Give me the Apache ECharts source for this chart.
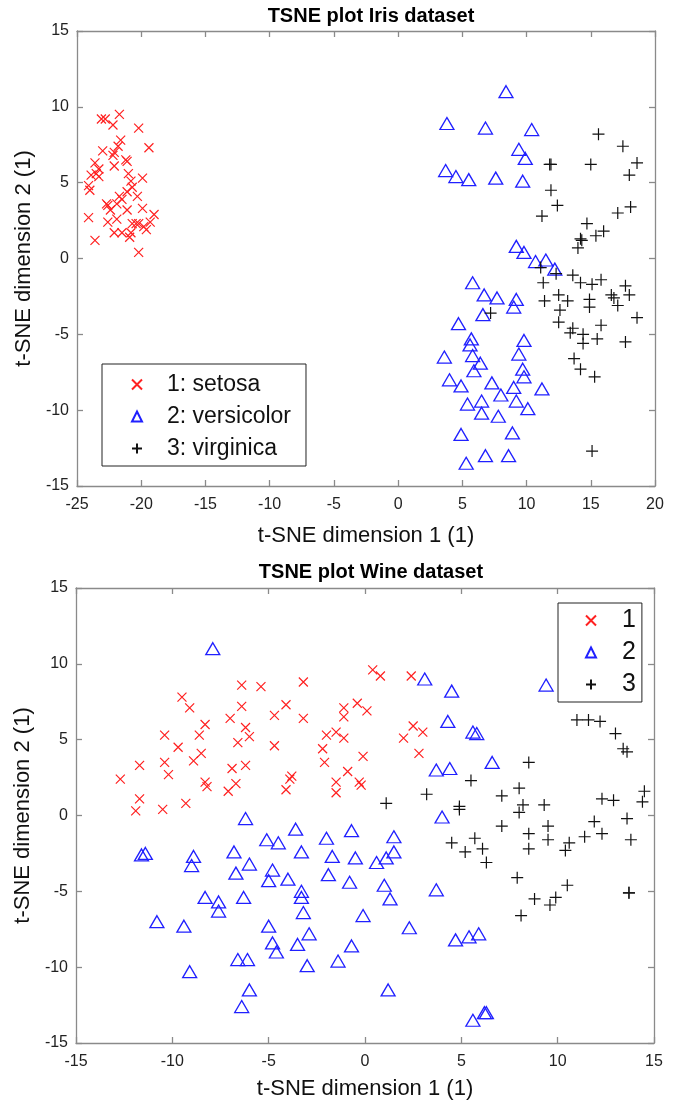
<!DOCTYPE html>
<html>
<head>
<meta charset="utf-8">
<script src="https://cdn.jsdelivr.net/npm/echarts@6/dist/echarts.min.js"></script>
<style>
html,body{margin:0;padding:0;background:#fff;}
#chart{width:682px;height:1109px;}
</style>
</head>
<body>
<div id="chart"></div>
<script>
// Iris t-SNE points [x, y]
var irisSetosa = [[-21.7,9.5],[-23.1,9.2],[-22.8,9.2],[-22.2,8.8],[-20.2,8.6],[-21.6,7.8],[-21.8,7.4],[-23.0,7.1],[-22.1,7.0],[-22.2,6.8],[-19.4,7.3],[-21.2,6.5],[-21.1,6.4],[-23.6,6.3],[-22.1,6.1],[-23.3,5.9],[-23.9,5.5],[-23.5,5.6],[-23.3,5.4],[-21.0,5.6],[-20.8,5.1],[-19.9,5.3],[-24.1,4.8],[-24.0,4.5],[-20.7,4.7],[-21.1,4.4],[-21.7,4.1],[-20.3,4.1],[-21.5,3.9],[-22.7,3.6],[-22.6,3.5],[-21.9,3.6],[-22.4,3.2],[-21.1,3.2],[-19.9,3.3],[-24.1,2.7],[-19.0,2.9],[-21.9,2.6],[-22.6,2.4],[-20.7,2.3],[-20.4,2.3],[-20.2,2.3],[-19.8,2.1],[-19.3,2.4],[-19.6,1.9],[-22.1,1.7],[-21.5,1.7],[-20.8,1.7],[-20.9,1.4],[-23.6,1.2],[-20.2,0.4]];
var irisVersicolor = [[8.4,11.0],[3.8,8.9],[6.8,8.6],[10.4,8.5],[9.4,7.2],[9.9,6.6],[3.7,5.8],[4.5,5.4],[5.5,5.2],[7.6,5.3],[9.7,5.1],[9.2,0.8],[9.8,0.4],[10.7,-0.2],[11.5,-0.1],[12.2,-0.7],[5.8,-1.6],[6.7,-2.4],[7.7,-2.6],[9.2,-2.7],[9.0,-3.2],[6.6,-3.7],[4.7,-4.3],[5.7,-5.3],[5.6,-5.7],[9.8,-5.4],[3.6,-6.5],[5.8,-6.4],[6.4,-6.9],[5.9,-7.4],[9.4,-6.3],[9.7,-7.3],[9.8,-7.8],[4.0,-8.0],[4.9,-8.4],[7.3,-8.2],[9.0,-8.5],[8.0,-9.0],[11.2,-8.6],[5.4,-9.6],[6.5,-9.4],[9.2,-9.4],[10.1,-9.9],[6.5,-10.2],[7.8,-10.4],[4.9,-11.6],[8.9,-11.5],[6.8,-13.0],[8.6,-13.0],[5.3,-13.5]];
var irisVirginica = [[15.6,8.2],[17.5,7.4],[11.8,6.2],[11.9,6.2],[15.0,6.2],[18.6,6.3],[18.0,5.5],[11.9,4.5],[12.4,3.5],[11.2,2.8],[17.1,3.0],[18.1,3.4],[14.7,2.3],[14.2,1.3],[14.3,1.2],[15.4,1.5],[16.0,1.8],[14.0,0.7],[11.1,-0.6],[12.3,-1.0],[13.6,-1.1],[14.2,-1.6],[15.1,-1.7],[15.8,-1.4],[17.7,-1.8],[11.3,-1.6],[12.5,-2.4],[16.6,-2.4],[16.8,-2.6],[18.0,-2.4],[11.4,-2.8],[13.2,-2.8],[14.9,-2.7],[14.9,-3.2],[12.6,-3.4],[17.1,-3.1],[7.2,-3.6],[18.6,-3.9],[12.5,-4.2],[13.6,-4.6],[13.4,-4.9],[14.4,-5.0],[15.8,-4.4],[14.4,-5.6],[15.5,-5.3],[17.7,-5.5],[13.7,-6.6],[14.2,-7.3],[15.3,-7.8],[15.1,-12.7]];

// Wine t-SNE points [x, y]
var wine1 = [[-12.7,2.4],[-11.7,3.3],[-11.7,1.1],[-11.9,0.3],[-10.5,0.4],[-10.4,5.3],[-10.4,3.5],[-10.2,2.7],[-9.7,4.5],[-9.5,7.8],[-9.1,7.1],[-9.3,0.8],[-8.9,3.6],[-8.6,5.3],[-8.5,4.1],[-8.3,6.0],[-8.3,2.2],[-8.2,1.9],[-7.1,1.6],[-7.0,6.4],[-6.9,3.1],[-6.7,2.1],[-6.6,4.8],[-6.4,8.6],[-6.4,7.2],[-6.2,5.8],[-6.0,5.2],[-6.2,3.3],[-5.4,8.5],[-4.7,4.6],[-4.7,6.6],[-4.1,7.3],[-4.1,1.7],[-3.9,2.4],[-3.8,2.6],[-3.2,8.8],[-3.2,6.4],[-2.2,4.4],[-2.1,3.5],[-2.0,5.3],[-1.5,5.5],[-1.5,2.2],[-1.5,1.5],[-1.1,7.1],[-1.1,6.5],[-1.1,5.1],[-0.9,2.9],[-0.4,7.4],[-0.3,2.2],[-0.2,2.0],[-0.1,3.9],[0.4,9.6],[0.8,9.2],[2.4,9.2],[0.1,6.9],[2.5,5.9],[3.0,5.5],[2.0,5.1],[2.8,4.1]];
var wine2 = [[-7.9,11.0],[3.1,9.0],[4.5,8.2],[9.4,8.6],[4.3,6.2],[5.6,5.5],[5.8,5.4],[6.6,3.5],[3.7,3.0],[4.4,3.1],[-6.2,-0.2],[-3.6,-0.9],[-5.1,-1.6],[-4.5,-1.8],[-2.0,-1.5],[-0.7,-1.0],[-11.6,-2.6],[-11.4,-2.5],[-8.9,-2.7],[-9.0,-3.3],[-6.8,-2.4],[-6.0,-3.2],[-6.7,-3.8],[-3.3,-2.4],[-4.8,-3.6],[-5.0,-4.3],[-4.0,-4.2],[-1.7,-2.7],[-1.9,-3.9],[-0.5,-2.8],[-0.8,-4.4],[-3.3,-5.0],[-3.3,-5.4],[-3.2,-6.4],[-8.3,-5.4],[-7.6,-5.7],[-7.6,-6.3],[-6.3,-5.4],[-10.8,-7.0],[-9.4,-7.3],[-5.0,-7.3],[-2.9,-7.8],[-4.8,-8.4],[-4.6,-9.0],[-3.5,-8.5],[-1.4,-9.6],[-0.7,-8.6],[-6.6,-9.5],[-6.1,-9.5],[-3.0,-9.9],[-9.1,-10.3],[-6.0,-11.5],[-6.4,-12.6],[4.0,-0.1],[1.5,-1.4],[0.6,-3.1],[1.1,-2.8],[1.5,-2.4],[1.0,-4.6],[1.3,-5.5],[3.7,-4.9],[-0.1,-6.6],[2.3,-7.4],[4.7,-8.2],[5.4,-8.0],[5.9,-7.8],[1.2,-11.5],[5.6,-13.5],[6.2,-13.0],[6.3,-13.0]];
var wine3 = [[11.0,6.3],[11.6,6.3],[12.2,6.2],[13.0,5.4],[13.4,4.4],[13.6,4.2],[8.5,3.5],[5.5,2.3],[8.0,1.8],[3.2,1.4],[7.1,1.3],[14.5,1.6],[1.1,0.8],[4.9,0.6],[4.9,0.4],[8.2,0.7],[8.0,0.2],[9.3,0.7],[12.3,1.1],[12.9,1.0],[14.4,0.9],[7.1,-0.7],[8.5,-1.2],[9.5,-0.7],[9.5,-1.6],[11.9,-0.4],[12.3,-1.2],[11.4,-1.4],[10.6,-1.8],[10.4,-2.3],[13.6,-0.2],[13.8,-1.6],[4.5,-1.8],[5.7,-1.5],[6.1,-2.2],[5.2,-2.4],[6.3,-3.1],[8.5,-2.2],[7.9,-4.1],[10.5,-4.6],[8.8,-5.5],[9.6,-5.9],[9.9,-5.4],[8.1,-6.6],[13.7,-5.1],[13.7,-5.1]];

var irisNames = ['1: setosa', '2: versicolor', '3: virginica'];
var wineNames = ['1', '2', '3'];
var titles = ['TSNE plot Iris dataset', 'TSNE plot Wine dataset'];
var xName = 't-SNE dimension 1 (1)';
var yName = 't-SNE dimension 2 (1)';

var FONT = 'Liberation Sans, Arial, sans-serif';
var AXC = '#8a8a8a';
var CROSS = 'path://M0,0L10,10M10,0L0,10';
var PLUS = 'path://M5,0L5,10M0,5L10,5';

function mainAxis(gi, pos, min, max, name, gap) {
    return {
        type: 'value', gridIndex: gi, position: pos, min: min, max: max, interval: 5,
        name: name, nameLocation: 'middle', nameGap: gap,
        nameTextStyle: {fontFamily: FONT, fontSize: 22, color: '#111'},
        axisLine: {show: true, onZero: false, lineStyle: {color: AXC, width: 1.3}},
        axisTick: {show: true, inside: true, length: 6, lineStyle: {color: AXC, width: 1.3}},
        axisLabel: {fontFamily: FONT, fontSize: 16, color: '#222', margin: pos == 'bottom' ? 11 : 8},
        splitLine: {show: false}
    };
}
function boxAxis(gi, pos, min, max) {
    return {
        type: 'value', gridIndex: gi, position: pos, min: min, max: max, interval: 5,
        axisLine: {show: true, onZero: false, lineStyle: {color: AXC, width: 1.3}},
        axisTick: {show: true, inside: true, length: 6, lineStyle: {color: AXC, width: 1.3}},
        axisLabel: {show: false},
        splitLine: {show: false}
    };
}
function crossSeries(name, xi, yi, data) {
    return {name: name, type: 'scatter', xAxisIndex: xi, yAxisIndex: yi, data: data,
        symbol: CROSS, symbolSize: 9,
        itemStyle: {color: 'rgba(0,0,0,0)', borderColor: '#ff2020', borderWidth: 1.2, opacity: 1}};
}
function triSeries(name, xi, yi, data) {
    return {name: name, type: 'scatter', xAxisIndex: xi, yAxisIndex: yi, data: data,
        symbol: 'triangle', symbolSize: [14, 12],
        itemStyle: {color: 'rgba(0,0,0,0)', borderColor: '#2020ff', borderWidth: 1.3, opacity: 1}};
}
function plusSeries(name, xi, yi, data) {
    return {name: name, type: 'scatter', xAxisIndex: xi, yAxisIndex: yi, data: data,
        symbol: PLUS, symbolSize: 12,
        itemStyle: {color: 'rgba(0,0,0,0)', borderColor: '#111', borderWidth: 1.2, opacity: 1}};
}

var option = {
    backgroundColor: '#fff',
    animation: false,
    title: [
        {text: titles[0], left: 366, top: 1, textAlign: 'center',
         textStyle: {fontFamily: FONT, fontSize: 20, fontWeight: 'bold', color: '#000'}},
        {text: titles[1], left: 366, top: 557, textAlign: 'center',
         textStyle: {fontFamily: FONT, fontSize: 20, fontWeight: 'bold', color: '#000'}}
    ],
    grid: [
        {left: 77, top: 31, width: 578, height: 455},
        {left: 76, top: 588, width: 578, height: 455}
    ],
    xAxis: [
        mainAxis(0, 'bottom', -25, 20, xName, 39),
        boxAxis(0, 'top', -25, 20),
        mainAxis(1, 'bottom', -15, 15, xName, 35),
        boxAxis(1, 'top', -15, 15)
    ],
    yAxis: [
        mainAxis(0, 'left', -15, 15, yName, 37),
        boxAxis(0, 'right', -15, 15),
        mainAxis(1, 'left', -15, 15, yName, 37),
        boxAxis(1, 'right', -15, 15)
    ],
    legend: [
        {data: irisNames, orient: 'vertical', left: 102, top: 364,
         padding: [9, 15, 6, 29], itemGap: 9, itemWidth: 10, itemHeight: 10,
         borderColor: '#222', borderWidth: 1, backgroundColor: '#fff',
         textStyle: {fontFamily: FONT, fontSize: 23, color: '#111', padding: [0, 0, 0, 20]}},
        {data: wineNames, orient: 'vertical', left: 558, top: 603,
         padding: [5, 6, 5, 27], itemGap: 7, itemWidth: 10, itemHeight: 10,
         borderColor: '#222', borderWidth: 1, backgroundColor: '#fff',
         textStyle: {fontFamily: FONT, fontSize: 25, color: '#111', padding: [0, 0, 0, 21]}}
    ],
    series: [
        crossSeries(irisNames[0], 0, 0, irisSetosa),
        triSeries(irisNames[1], 0, 0, irisVersicolor),
        plusSeries(irisNames[2], 0, 0, irisVirginica),
        crossSeries(wineNames[0], 2, 2, wine1),
        triSeries(wineNames[1], 2, 2, wine2),
        plusSeries(wineNames[2], 2, 2, wine3)
    ]
};

var myChart = echarts.init(document.getElementById('chart'), null, {renderer: 'canvas'});
myChart.setOption(option);
</script>
</body>
</html>
